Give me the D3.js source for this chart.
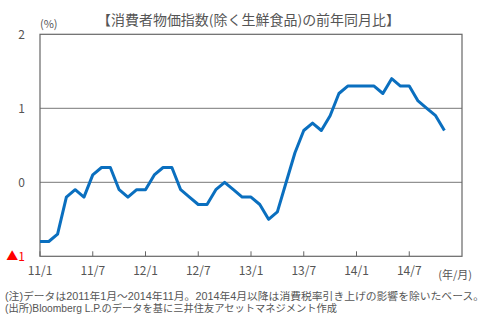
<!DOCTYPE html>
<html><head><meta charset="utf-8">
<script src="https://cdn.jsdelivr.net/npm/d3@7/dist/d3.min.js"></script>
<style>body{margin:0;background:#fff}svg{display:block}text{font-family:"Noto Sans CJK JP","Noto Sans",sans-serif}text.note{font-family:"Liberation Sans","Noto Sans CJK JP",sans-serif}</style>
</head><body><svg id="c" width="500" height="329"></svg>
<script>
const title = "【消費者物価指数(除く生鮮食品)の前年同月比】";
const months = d3.range(0, 47); // 2011/1 .. 2014/11
const values = [-0.8,-0.8,-0.7,-0.2,-0.1,-0.2,0.1,0.2,0.2,-0.1,-0.2,-0.1,
  -0.1,0.1,0.2,0.2,-0.1,-0.2,-0.3,-0.3,-0.1,0.0,-0.1,-0.2,
  -0.2,-0.3,-0.5,-0.4,0.0,0.4,0.7,0.8,0.7,0.9,1.2,1.3,
  1.3,1.3,1.3,1.2,1.4,1.3,1.3,1.1,1.0,0.9,0.7];
const xTickIdx = [0,6,12,18,24,30,36,42];
const xTickLabels = ["11/1","11/7","12/1","12/7","13/1","13/7","14/1","14/7"];
const yTicks = [-1,0,1,2];
const yTickLabels = ["▲1","0","1","2"];
const notes = ["(注)データは2011年1月～2014年11月。2014年4月以降は消費税率引き上げの影響を除いたベース。",
  "(出所)Bloomberg L.P.のデータを基に三井住友アセットマネジメント作成"];

const svg = d3.select("#c");
const L=40, R=462, T=34.3, B=256.3;
const x = d3.scaleLinear().domain([0,48]).range([L,R]);
const y = d3.scaleLinear().domain([-1,2]).range([B,T]);
const grey="#666";

// gridlines
svg.append("g").selectAll("line").data([0,1]).join("line")
  .attr("x1",L).attr("x2",R).attr("y1",d=>y(d)).attr("y2",d=>y(d))
  .attr("stroke","#777").attr("stroke-width",1);

// x ticks (inward)
svg.append("g").selectAll("line").data(xTickIdx).join("line")
  .attr("x1",d=>x(d)).attr("x2",d=>x(d)).attr("y1",B).attr("y2",B-5)
  .attr("stroke",grey).attr("stroke-width",1);

// box
svg.append("rect").attr("x",L).attr("y",T).attr("width",R-L).attr("height",B-T)
  .attr("fill","none").attr("stroke",grey).attr("stroke-width",1.2);

// line
svg.append("path").datum(values)
  .attr("d", d3.line().x((d,i)=>x(months[i])).y(d=>y(d)))
  .attr("fill","none").attr("stroke","#0a6fbf").attr("stroke-width",3).attr("stroke-linejoin","round");

// y labels
svg.append("g").selectAll("text").data(yTicks).join("text")
  .attr("x",25).attr("y",d=>y(d)+4.5).attr("text-anchor","end")
  .attr("font-size",12).attr("fill",(d,i)=>d<0?"#f00":"#555")
  .text((d,i)=>yTickLabels[i]);

// x labels
svg.append("g").selectAll("text").data(xTickIdx).join("text")
  .attr("x",d=>x(d)).attr("y",275).attr("text-anchor","middle")
  .attr("font-size",12).attr("fill","#555")
  .text((d,i)=>xTickLabels[i]);

svg.append("text").attr("x",472).attr("y",279).attr("text-anchor","end")
  .attr("font-size",11).attr("fill","#555").text("(年/月)");
svg.append("text").attr("x",40).attr("y",28)
  .attr("font-size",11).attr("fill","#555").text("(%)");
svg.append("text").attr("x",97).attr("y",25).attr("font-size",13.5).attr("fill","#555")
  .attr("textLength",303).attr("lengthAdjust","spacingAndGlyphs").text(title);

svg.append("text").attr("class","note").attr("x",5).attr("y",300).attr("font-size",10).attr("fill","#555")
  .attr("textLength",479).attr("lengthAdjust","spacingAndGlyphs").text(notes[0]);
svg.append("text").attr("class","note").attr("x",5).attr("y",311.5).attr("font-size",10).attr("fill","#555")
  .attr("textLength",332).attr("lengthAdjust","spacingAndGlyphs").text(notes[1]);
</script></body></html>
